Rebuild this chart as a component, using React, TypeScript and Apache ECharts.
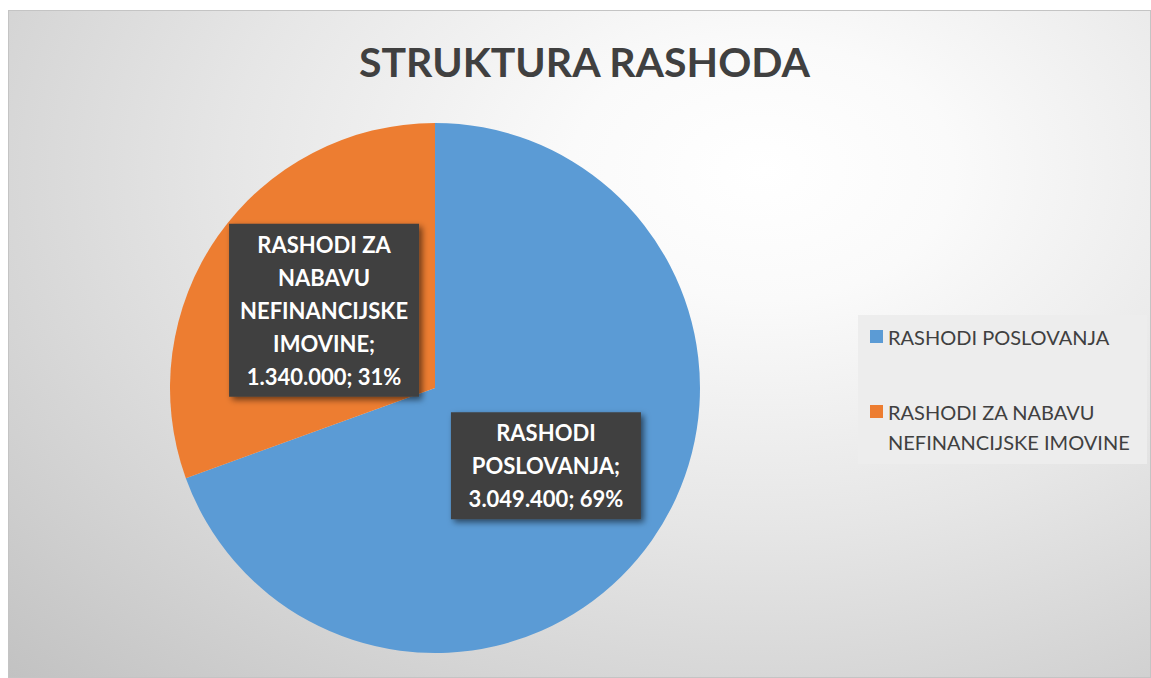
import React, { useEffect, useRef } from "react";
import * as echarts from "echarts";

const categories = ["RASHODI POSLOVANJA", "RASHODI ZA NABAVU NEFINANCIJSKE IMOVINE"];
const values = [3049400, 1340000];
const colors = ["#5b9bd5", "#ed7d31"];
const labelLines = [
  ["RASHODI", "POSLOVANJA;"],
  ["RASHODI ZA", "NABAVU", "NEFINANCIJSKE", "IMOVINE;"],
];
const legendLines = [["RASHODI POSLOVANJA"], ["RASHODI ZA NABAVU", "NEFINANCIJSKE IMOVINE"]];
const titleText = "STRUKTURA RASHODA";

const FONT = "Lato, 'Open Sans', sans-serif";

function fmt(v: number): string {
  return String(v).replace(/\B(?=(\d{3})+(?!\d))/g, ".");
}

// legend icons: square placed within a taller invisible bounding box
const ICON_CENTER = "path://M0,15h13v13h-13z M0,0L13,0 M0,43L13,43";
const ICON_TOP = "path://M0,0h13v13h-13z M0,43L13,43";

export default function App() {
  const ref = useRef<HTMLDivElement>(null);
  useEffect(() => {
    if (!ref.current) return;
    const chart = echarts.init(ref.current, undefined, { renderer: "svg" });
    chart.setOption({
      animation: false,
      backgroundColor: "transparent",
      title: {
        text: titleText,
        left: 345,
        top: 25,
        textStyle: { fontFamily: FONT, fontWeight: "bold", fontSize: 41, color: "#404040" },
      },
      graphic: [
        {
          type: "rect",
          left: 849,
          top: 304,
          shape: { width: 289, height: 149 },
          style: { fill: "#ededed" },
          z: 0,
        },
      ],
      legend: {
        orient: "vertical",
        left: 861,
        top: 304,
        padding: 0,
        itemWidth: 13,
        itemHeight: 43,
        itemGap: 38.5,
        itemStyle: { borderWidth: 0 },
        data: categories.map((c, i) => ({
          name: c,
          icon: legendLines[i].length > 1 ? ICON_TOP : ICON_CENTER,
        })),
        formatter: (name: string) => legendLines[categories.indexOf(name)].join("\n"),
        textStyle: { fontFamily: FONT, fontSize: 20, lineHeight: 30, color: "#404040" },
      },
      series: [
        {
          type: "pie",
          center: [426, 377],
          radius: 265,
          startAngle: 90,
          clockwise: true,
          itemStyle: { borderWidth: 0 },
          label: {
            show: true,
            position: "inside",
            formatter: (p: any) =>
              [...labelLines[p.dataIndex], `${fmt(p.value)}; ${Math.round(p.percent)}%`].join("\n"),
            color: "#ffffff",
            fontFamily: FONT,
            fontWeight: "bold",
            fontSize: 22,
            lineHeight: 33,
            width: 170,
            align: "center",
            backgroundColor: "#404040",
            padding: [4, 10],
            shadowColor: "rgba(0,0,0,0.55)",
            shadowBlur: 6,
            shadowOffsetX: 3,
            shadowOffsetY: 3,
          },
          labelLine: { show: false },
          emphasis: { disabled: true },
          data: categories.map((c, i) => ({ name: c, value: values[i], itemStyle: { color: colors[i] } })),
        },
      ],
    });
    return () => chart.dispose();
  }, []);
  return (
    <div
      style={{
        position: "absolute",
        left: 8,
        top: 10,
        width: 1143,
        height: 668,
        boxSizing: "border-box",
        border: "1px solid #c4c4c4",
        background:
          "radial-gradient(ellipse farthest-corner at 66% 24%, #ffffff 0%, #fafafa 18%, #e6e6e6 50%, #c2c2c2 100%)",
      }}
    >
      <div ref={ref} style={{ width: "100%", height: "100%" }} />
    </div>
  );
}
